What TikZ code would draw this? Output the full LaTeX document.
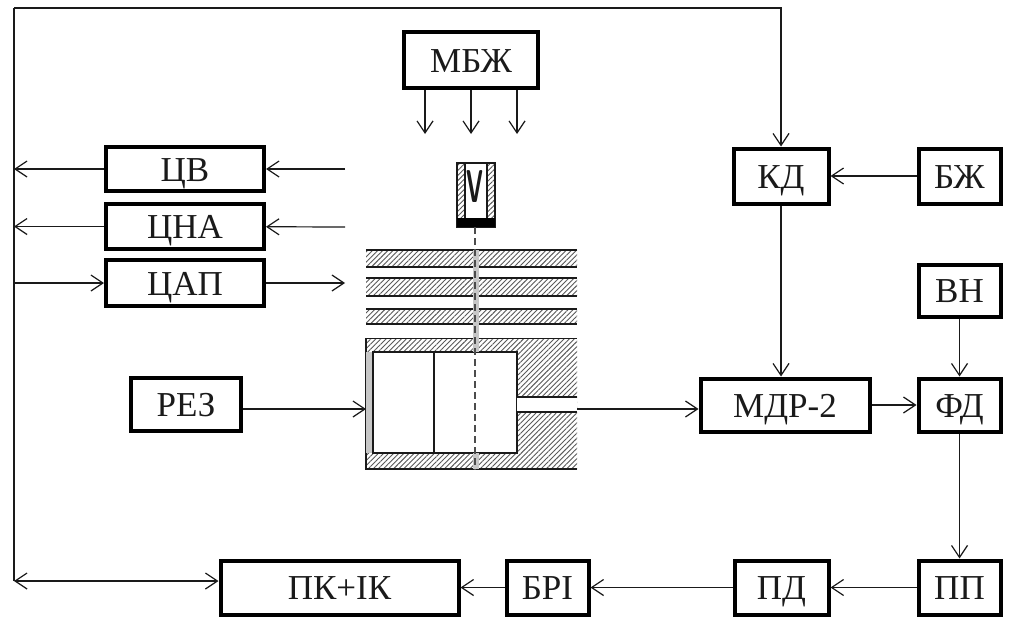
\documentclass[tikz,border=0pt]{standalone}
\usepackage{fontspec}
\setmainfont{Liberation Serif}
\usepackage{tikz}
\usetikzlibrary{arrows.meta,positioning,patterns.meta}
\definecolor{ink}{HTML}{1A1A1A}

\begin{document}
\begin{tikzpicture}[x=1pt,y=-1pt,every node/.style={font=\fontsize{35}{40}\selectfont,text=ink}, box/.style={draw=black,line width=4pt,fill=white,align=center,inner sep=0pt,text height=24pt,text depth=0pt}, arrow/.style={-{Straight Barb[length=12pt,width=16pt,line width=1.2pt]},draw=ink,line width=1.2pt}, hatch/.style={pattern={Lines[angle=45,distance=3.6pt,line width=.9pt]},pattern color=black!65}, wall/.style={draw=ink,line width=1.8pt}]
\useasboundingbox (0,0) rectangle (1011,618);
\fill[white] (0,0) rectangle (1011,618);
% blocks on the right
\node[box,minimum width=95pt,minimum height=55pt] (kd) at (781,176) {КД};
\node[box,minimum width=82pt,minimum height=55pt,right=86pt of kd] (bzh) {БЖ};
\node[box,minimum width=82pt,minimum height=52pt,below=57pt of bzh] (vn) {ВН};
\node[box,minimum width=82pt,minimum height=53pt,below=58pt of vn] (fd) {ФД};
\node[box,minimum width=169pt,minimum height=53pt,left=45pt of fd] (mdr) {МДР-2};
\node[box,minimum width=82pt,minimum height=54pt,below=125pt of fd] (pp) {ПП};
\node[box,minimum width=94pt,minimum height=54pt,left=86pt of pp] (pd) {ПД};
\node[box,minimum width=82pt,minimum height=54pt,left=142pt of pd] (bri) {БРІ};
\node[box,minimum width=238pt,minimum height=54pt,left=44pt of bri] (pc) {ПК+ІК};
% blocks on the left
\node[box,minimum width=158pt,minimum height=44pt] (cv) at (185,169) {ЦВ};
\node[box,minimum width=158pt,minimum height=45pt,below=9pt of cv] (cna) {ЦНА};
\node[box,minimum width=158pt,minimum height=46pt,below=7pt of cna] (cap) {ЦАП};
\node[box,minimum width=110pt,minimum height=53pt] (rez) at (186,404) {РЕЗ};
\node[box,minimum width=134pt,minimum height=56pt] (mbzh) at (471,60) {МБЖ};
% free ends
\coordinate (bustop) at (14,8);
\coordinate (busbot) at (14,581);
\coordinate (cvin) at (345,169);
\coordinate (cnain) at (345,227);
\coordinate (capout) at (345,283);
\coordinate (inlet) at (366,409);
\coordinate (outlet) at (577,409);
\coordinate (beamA) at (425,134);
\coordinate (beamB) at (471,134);
\coordinate (beamC) at (517,134);
% plates
\foreach \ya/\yb in {250/267,278/296,309/324}{
\fill[hatch] (366,\ya) rectangle (577,\yb);
\draw[wall] (366,\ya) -- (577,\ya);
\draw[wall] (366,\yb) -- (577,\yb);
}
% chamber
\fill[hatch] (366,338) rectangle (577,469);
\draw[wall,line width=1pt] (366,338) -- (577,338);
\draw[wall] (366,338) -- (366,469) -- (577,469);
\fill[black!22] (366,352) rectangle (373,453);
\draw[wall,fill=white] (373,352) rectangle (517,453);
\draw[wall,line width=1.2pt] (434,352) -- (434,453);
\fill[white] (517,397) rectangle (577,412);
\draw[wall,line width=1.2pt] (517,397) -- (577,397);
\draw[wall,line width=1.2pt] (517,412) -- (577,412);
\fill[black!22] (473,250) rectangle (479,352);
\fill[black!22] (473,453) rectangle (479,469);
% detector
\fill[hatch] (457,163) rectangle (495,220);
\draw[wall,fill=white] (465,163) rectangle (487,220);
\draw[wall] (457,163) rectangle (495,227);
\fill[black] (457,218) rectangle (495,227);
\node[font=\fontsize{46}{46}\selectfont\sffamily\bfseries,xscale=.5,transform shape,inner sep=0pt] (volt) at (475,187) {V};
\draw[dash pattern=on 7pt off 4pt,draw=black!70,line width=1.4pt] (475,227) -- (475,470);
% connectors
\draw[draw=ink,line width=1.2pt] (busbot) -- (bustop);
\draw[arrow] (bustop) -| (kd);
\draw[arrow] (bzh) -- (kd);
\draw[arrow] (kd) -- (kd |- mdr.north);
\draw[arrow] (vn) -- (fd);
\draw[arrow] (mdr) -- (fd);
\draw[arrow] (fd) -- (pp);
\draw[arrow] (pp) -- (pd);
\draw[arrow] (pd) -- (bri);
\draw[arrow] (bri) -- (pc);
\draw[arrow,{Straight Barb[length=12pt,width=16pt,line width=1.2pt]}-{Straight Barb[length=12pt,width=16pt,line width=1.2pt]}] (busbot) -- (busbot -| pc.west);
\draw[arrow] (cv) -- (cv -| bustop);
\draw[arrow] (cvin) -- (cv);
\draw[arrow] (cna) -- (cna -| bustop);
\draw[arrow] (cnain) -- (cna);
\draw[arrow] (cap -| bustop) -- (cap);
\draw[arrow] (cap) -- (capout);
\draw[arrow] (rez.east |- inlet) -- (inlet);
\draw[arrow] (outlet) -- (outlet -| mdr.west);
\draw[arrow] (mbzh.south -| beamA) -- (beamA);
\draw[arrow] (mbzh.south -| beamB) -- (beamB);
\draw[arrow] (mbzh.south -| beamC) -- (beamC);
\end{tikzpicture}
\end{document}
